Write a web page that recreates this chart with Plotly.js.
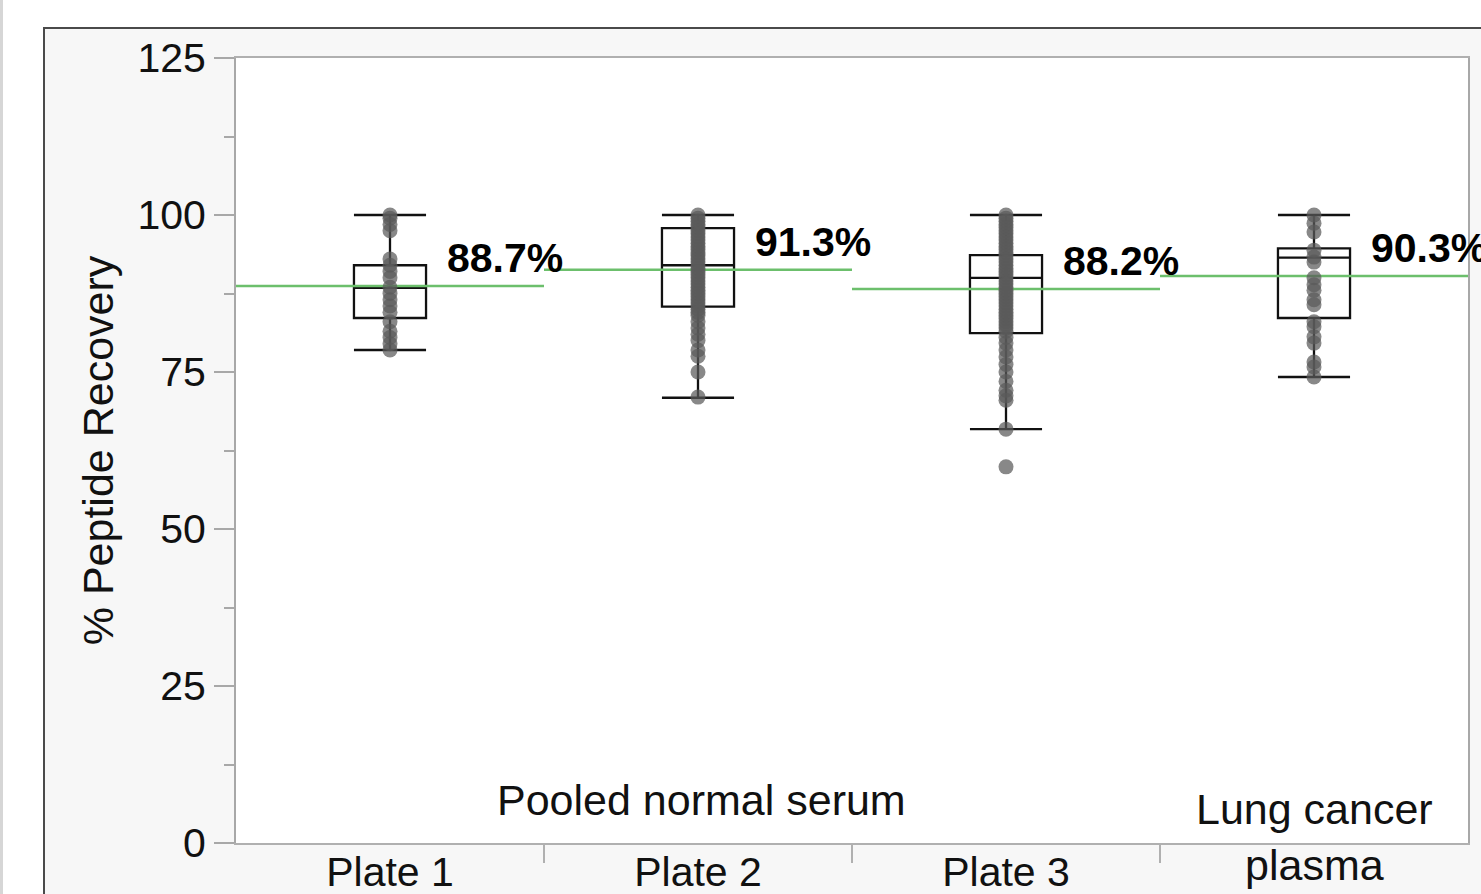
<!DOCTYPE html>
<html>
<head>
<meta charset="utf-8">
<script src="https://cdn.plot.ly/plotly-3.0.1.min.js"></script>
<style>
  html, body { margin: 0; padding: 0; background: #ffffff; overflow: hidden; width: 1481px; height: 894px; }
  #edge { position: absolute; left: 0; top: 0; width: 3px; height: 894px; background: #d6d6d6; }
  #chart { position: absolute; left: 43px; top: 27px; width: 1500px; height: 900px; border: 2px solid #4a4a4a; background: #f7f7f7; }
</style>
</head>
<body>
<div id="edge"></div>
<div id="chart"></div>
<script>
// ---- data ----
const categories = ["Plate 1", "Plate 2", "Plate 3", "Lung cancer<br>plasma"];
const groupLabel = "Pooled normal serum";
const meanValues = [88.7, 91.3, 88.2, 90.3];
const meanLabels = ["88.7%", "91.3%", "88.2%", "90.3%"];
const q1Values = [83.6, 85.4, 81.2, 83.6];
const medianValues = [88.4, 92.0, 90.0, 93.2];
const q3Values = [92.0, 97.9, 93.6, 94.7];
const lowerWhisker = [78.5, 70.9, 65.9, 74.2];
const upperWhisker = [100, 100, 100, 100];
const plate1Points = [100, 99.5, 98.5, 97.5, 93, 92, 91, 90, 88.5, 87.5, 86.5, 85.5, 84.5, 83, 81.5, 80.5, 79.5, 78.5];
const plate2Points = [100, 99.5, 99, 98.5, 98, 97.5, 97, 96.5, 96, 95.5, 95, 94.5, 94, 93.5, 93, 92.5, 92, 91.5, 91, 90.5, 90, 89.5, 89, 88.5, 88, 87.5, 87, 86.5, 86, 85.5, 85, 84.5, 84, 83, 82, 81, 80, 78.5, 77.5, 75, 71];
const plate3Points = [100, 99.5, 99, 98.5, 98, 97.5, 97, 96.5, 96, 95.5, 95, 94.5, 94, 93.5, 93, 92.5, 92, 91.5, 91, 90.5, 90, 89.5, 89, 88.5, 88, 87.5, 87, 86.5, 86, 85.5, 85, 84.5, 84, 83.5, 83, 82.5, 82, 81.5, 80.5, 79.6, 78.5, 77.4, 76.2, 75, 73.5, 72.1, 71.2, 70.5, 65.9, 59.9];
const lungPoints = [100, 98.7, 97.3, 94.4, 93.3, 92.5, 90, 88.9, 88, 86.5, 85.7, 83, 82.2, 80.6, 79.6, 76.6, 75.8, 74.2];
const yTickVals = [0, 25, 50, 75, 100, 125];

// ---- build traces ----
const groups = [plate1Points, plate2Points, plate3Points, lungPoints];
const pts = { x: [], y: [] };
groups.forEach((arr, i) => arr.forEach(v => { pts.x.push(i); pts.y.push(v); }));

const meanLine = { x: [], y: [] };
meanValues.forEach((m, i) => { meanLine.x.push(i - 0.5, i + 0.5, null); meanLine.y.push(m, m, null); });

const idx = categories.map((c, i) => i);
const FONT = "Liberation Sans, Arial, sans-serif";

const traces = [
  {
    type: "scatter", mode: "lines", x: meanLine.x, y: meanLine.y,
    line: { color: "#6cbf6c", width: 2.5 }, hoverinfo: "skip", showlegend: false
  },
  {
    type: "scatter", mode: "markers", x: pts.x, y: pts.y,
    marker: { size: 15, color: "rgba(90,90,90,0.72)", line: { width: 0 } },
    hoverinfo: "y", showlegend: false, cliponaxis: false
  },
  {
    type: "box", x: idx, q1: q1Values, median: medianValues, q3: q3Values,
    lowerfence: lowerWhisker, upperfence: upperWhisker,
    boxpoints: false, width: 0.234, whiskerwidth: 1,
    line: { color: "#111111", width: 2.3 }, fillcolor: "rgba(0,0,0,0)",
    showlegend: false, hoverinfo: "skip"
  }
];

const annotations = meanLabels.map((t, i) => ({
  x: i + 0.18, y: meanValues[i], xref: "x", yref: "y", text: t, showarrow: false,
  xanchor: "left", yanchor: "middle", yshift: 28,
  font: { family: FONT, size: 41, color: "#000000", weight: "bold" }
}));
annotations.push({
  x: 1.01, y: 6.8, xref: "x", yref: "y", text: groupLabel, showarrow: false,
  xanchor: "center", yanchor: "middle", font: { family: FONT, size: 43, color: "#111111" }
});
annotations.push({
  x: 3, y: 1.0, xref: "x", yref: "y", text: categories[3], showarrow: false,
  xanchor: "center", yanchor: "middle", font: { family: FONT, size: 43, color: "#111111" }
});

const layout = {
  width: 1500, height: 900,
  margin: { l: 191, r: 77, t: 29, b: 86, pad: 0 },
  paper_bgcolor: "#f7f7f7", plot_bgcolor: "#ffffff",
  font: { family: FONT, size: 41, color: "#111111" },
  showlegend: false,
  xaxis: {
    type: "linear", range: [-0.5, 3.5], fixedrange: true,
    tickmode: "array", tickvals: idx.slice(0, 3), ticktext: categories.slice(0, 3),
    ticks: "", showgrid: false, zeroline: false, ticklabelstandoff: -8,
    showline: true, linecolor: "#b0b0b0", linewidth: 2, mirror: true,
    tickfont: { family: FONT, size: 41, color: "#111111" },
    minor: { tickmode: "array", tickvals: [0.5, 1.5, 2.5], ticks: "outside", ticklen: 18, tickwidth: 2, tickcolor: "#b0b0b0", showgrid: false },
    automargin: false
  },
  yaxis: {
    range: [0, 125], fixedrange: true,
    tickmode: "array", tickvals: yTickVals,
    ticks: "outside", ticklen: 20, tickwidth: 2, tickcolor: "#a8a8a8",
    minor: { dtick: 12.5, ticks: "outside", ticklen: 10, tickwidth: 2, tickcolor: "#a8a8a8", showgrid: false },
    showgrid: false, zeroline: false,
    showline: true, linecolor: "#a8a8a8", linewidth: 2, mirror: true,
    tickfont: { family: FONT, size: 41, color: "#111111" },
    title: { text: "% Peptide Recovery", font: { family: FONT, size: 43, color: "#111111" }, standoff: 10 },
    automargin: false
  },
  annotations: annotations
};

Plotly.newPlot("chart", traces, layout, { displayModeBar: false, staticPlot: true });
</script>
</body>
</html>
